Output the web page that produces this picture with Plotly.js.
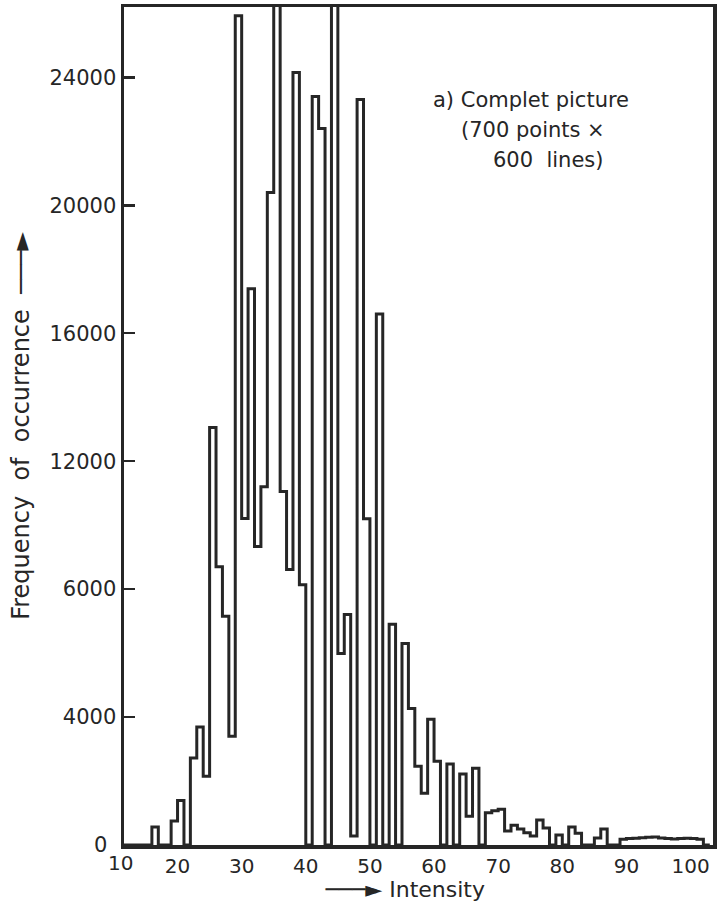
<!DOCTYPE html>
<html>
<head>
<meta charset="utf-8">
<script src="https://cdn.plot.ly/plotly-3.0.1.min.js"></script>
<style>html,body{margin:0;padding:0;background:#fff;}#chart{width:720px;height:906px;}</style>
</head>
<body>
<div id="chart"></div>
<script>
// Histogram bins: each intensity k covers [k, k+1)
const intensity = [11,12,13,14,15,16,17,18,19,20,21,22,23,24,25,26,27,28,29,30,
  31,32,33,34,35,36,37,38,39,40,41,42,43,44,45,46,47,48,49,50,
  51,52,53,54,55,56,57,58,59,60,61,62,63,64,65,66,67,68,69,70,
  71,72,73,74,75,76,77,78,79,80,81,82,83,84,85,86,87,88,89,90,
  91,92,93,94,95,96,97,98,99,100,101,102,103];
const counts = [0,0,0,0,0,560,0,0,750,1390,0,2720,3690,2150,13050,8700,7150,3400,25930,10210,
  17390,9330,11200,20400,30000,11050,8610,24150,8140,0,23400,22400,0,30000,5990,7210,280,23310,10200,0,
  16600,0,6900,0,6300,4270,2460,1620,3930,2620,0,2530,0,2220,900,2400,0,1010,1070,1120,
  440,620,500,380,280,780,530,0,310,0,560,370,0,0,220,500,0,0,180,200,
  210,230,240,250,220,200,190,200,210,200,180,0,0];

const yTickVals = [0,4000,8000,12000,16000,20000,24000];
const yTickText = ["","4000","6000","12000","16000","20000","24000"];
const xTickVals = [20,30,40,50,60,70,80,90,100];
const cornerLabels = ["0", "10"];
const noteLines = ["a) Complet picture", "(700 points \u00d7", "600  lines)"];

const ink = '#262626';
const FONT = 'DejaVu Sans, sans-serif';
const ARROW = '\u2500\u2500\u2500\u25BA';
const NB = '\u00a0';
const PAD = '<span style="color:#ffffff">\u2500\u2500</span>';

const trace = {
  x: intensity, y: counts, type: 'scatter', mode: 'lines',
  line: {shape: 'hv', color: ink, width: 3},
  hoverinfo: 'x+y'
};

const note = (txt, x, y, size) => ({xref: 'paper', yref: 'paper', x: x, y: y, xanchor: 'center', yanchor: 'middle',
  text: txt, showarrow: false, font: {size: size || 21, family: FONT, color: ink}});

const layout = {
  width: 720, height: 906,
  margin: {l: 124, r: 7, t: 7, b: 61},
  paper_bgcolor: '#fff', plot_bgcolor: '#fff',
  showlegend: false,
  font: {family: FONT, color: ink},
  xaxis: {
    range: [11.65, 103.5], tickvals: xTickVals, ticks: '',
    showline: true, mirror: true, linewidth: 3.5, linecolor: ink,
    showgrid: false, zeroline: false,
    tickfont: {size: 20, family: FONT, color: ink},
    title: {text: ARROW + ' Intensity' + PAD, font: {size: 22, family: FONT, color: ink}, standoff: 6}
  },
  yaxis: {
    range: [0, 26200], tickvals: yTickVals, ticktext: yTickText,
    ticks: 'inside', ticklen: 11, tickwidth: 2.5, tickcolor: ink,
    showline: true, mirror: true, linewidth: 3.5, linecolor: ink,
    showgrid: false, zeroline: false,
    tickfont: {size: 21, family: FONT, color: ink},
    title: {text: 'Frequency' + NB.repeat(2) + 'of' + NB.repeat(2) + 'occurrence' + NB.repeat(2) + ARROW,
            font: {size: 24, family: FONT, color: ink}, standoff: 14}
  },
  annotations: [
    note(noteLines[0], 0.691, 0.889),
    note(noteLines[1], 0.694, 0.853),
    note(noteLines[2], 0.72, 0.817),
    note(cornerLabels[0], -0.040, 0.0, 21),
    note(cornerLabels[1], -0.006, -0.022, 20)
  ]
};

Plotly.newPlot('chart', [trace], layout, {staticPlot: true, displayModeBar: false});
</script>
</body>
</html>
